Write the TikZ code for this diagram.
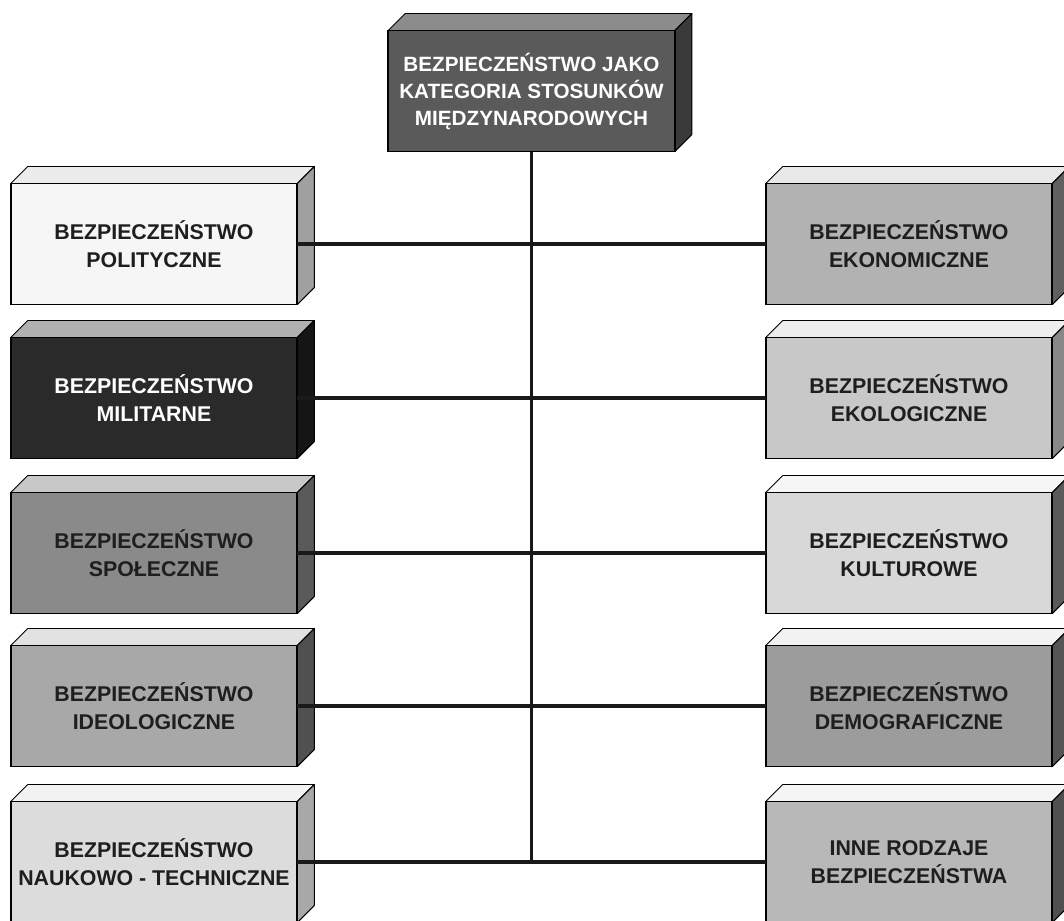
\documentclass[tikz,border=0pt]{standalone}
\usepackage{fontspec}
\setmainfont{Liberation Sans}
\usetikzlibrary{backgrounds,calc}

\definecolor{topF}{HTML}{5A5A5A}\definecolor{topT}{HTML}{8C8C8C}\definecolor{topS}{HTML}{3A3A3A}
\definecolor{polF}{HTML}{F6F6F6}\definecolor{polT}{HTML}{ECECEC}\definecolor{polS}{HTML}{A0A0A0}
\definecolor{milF}{HTML}{2A2A2A}\definecolor{milT}{HTML}{B0B0B0}\definecolor{milS}{HTML}{151515}
\definecolor{spoF}{HTML}{8A8A8A}\definecolor{spoT}{HTML}{C8C8C8}\definecolor{spoS}{HTML}{5A5A5A}
\definecolor{ideF}{HTML}{A8A8A8}\definecolor{ideT}{HTML}{E2E2E2}\definecolor{ideS}{HTML}{505050}
\definecolor{nauF}{HTML}{DCDCDC}\definecolor{nauT}{HTML}{F2F2F2}\definecolor{nauS}{HTML}{A8A8A8}
\definecolor{ekoF}{HTML}{B2B2B2}\definecolor{ekoT}{HTML}{E8E8E8}\definecolor{ekoS}{HTML}{606060}
\definecolor{eklF}{HTML}{C8C8C8}\definecolor{eklT}{HTML}{EDEDED}\definecolor{eklS}{HTML}{888888}
\definecolor{kulF}{HTML}{D8D8D8}\definecolor{kulT}{HTML}{F6F6F6}\definecolor{kulS}{HTML}{5A5A5A}
\definecolor{demF}{HTML}{9C9C9C}\definecolor{demT}{HTML}{F2F2F2}\definecolor{demS}{HTML}{555555}
\definecolor{innF}{HTML}{B8B8B8}\definecolor{innT}{HTML}{F5F5F5}\definecolor{innS}{HTML}{505050}
\definecolor{darktxt}{HTML}{1E1E1E}

\newcommand\boxfont{\fontsize{16}{21}\selectfont\bfseries}
\newcommand\topfont{\fontsize{15.5}{20.25}\selectfont\bfseries}

\tikzset{
  frontbox/.style={draw=black, line width=1.4pt, outer sep=0pt, inner sep=0pt,
    minimum width=215pt, minimum height=90.75pt, align=center, font=\boxfont, text=#1},
  face/.style={draw=black, line width=0.7pt, line join=round},
  conn/.style={draw=black!90, line width=2.3pt},
}

\def\dx{17}\def\dy{17}
% name, x, y, front colour, top colour, side colour, text colour, text
\newcommand\cubeat[8]{%
  \node[frontbox=#7, fill=#4] (#1) at (#2,#3) {#8};
  \begin{scope}[on background layer]
    \draw[face, fill=#5] (#1.north west) -- ++(\dx,-\dy) -- ($(#1.north east)+(\dx,-\dy)$) -- (#1.north east) -- cycle;
    \draw[face, fill=#6] (#1.north east) -- ++(\dx,-\dy) -- ($(#1.south east)+(\dx,-\dy)$) -- (#1.south east) -- cycle;
  \end{scope}}

\begin{document}
\begin{tikzpicture}[x=0.75pt,y=-0.75pt]
\useasboundingbox (0,0) rectangle (1064,921);
\begin{scope}[on background layer]
  \fill[white] (0,0) rectangle (1064,921);
\end{scope}

% top box
\node[frontbox=white, fill=topF, font=\topfont] (top) at (531.5,91) {BEZPIECZEŃSTWO JAKO\\KATEGORIA STOSUNKÓW\\MIĘDZYNARODOWYCH};
\begin{scope}[on background layer]
  \draw[face, fill=topT] (top.north west) -- ++(\dx,-\dy) -- ($(top.north east)+(\dx,-\dy)$) -- (top.north east) -- cycle;
  \draw[face, fill=topS] (top.north east) -- ++(\dx,-\dy) -- ($(top.south east)+(\dx,-\dy)$) -- (top.south east) -- cycle;
\end{scope}

% left column
\cubeat{pol}{154}{244}{polF}{polT}{polS}{darktxt}{BEZPIECZEŃSTWO\\POLITYCZNE}
\cubeat{mil}{154}{398}{milF}{milT}{milS}{white}{BEZPIECZEŃSTWO\\MILITARNE}
\cubeat{spo}{154}{553}{spoF}{spoT}{spoS}{darktxt}{BEZPIECZEŃSTWO\\SPOŁECZNE}
\cubeat{ide}{154}{706}{ideF}{ideT}{ideS}{darktxt}{BEZPIECZEŃSTWO\\IDEOLOGICZNE}
\cubeat{nau}{154}{862}{nauF}{nauT}{nauS}{darktxt}{BEZPIECZEŃSTWO\\NAUKOWO - TECHNICZNE}

% right column
\cubeat{ekn}{909}{244}{ekoF}{ekoT}{ekoS}{darktxt}{BEZPIECZEŃSTWO\\EKONOMICZNE}
\cubeat{ekl}{909}{398}{eklF}{eklT}{eklS}{darktxt}{BEZPIECZEŃSTWO\\EKOLOGICZNE}
\cubeat{kul}{909}{553}{kulF}{kulT}{kulS}{darktxt}{BEZPIECZEŃSTWO\\KULTUROWE}
\cubeat{dem}{909}{706}{demF}{demT}{demS}{darktxt}{BEZPIECZEŃSTWO\\DEMOGRAFICZNE}
\cubeat{inn}{909}{862}{innF}{innT}{innS}{darktxt}{INNE RODZAJE\\BEZPIECZEŃSTWA}

% connectors
\draw[conn] (top.south) -- (top.south |- nau.east);
\draw[conn] (pol.east) -- (ekn.west);
\draw[conn] (mil.east) -- (ekl.west);
\draw[conn] (spo.east) -- (kul.west);
\draw[conn] (ide.east) -- (dem.west);
\draw[conn] (nau.east) -- (inn.west);
\end{tikzpicture}
\end{document}
